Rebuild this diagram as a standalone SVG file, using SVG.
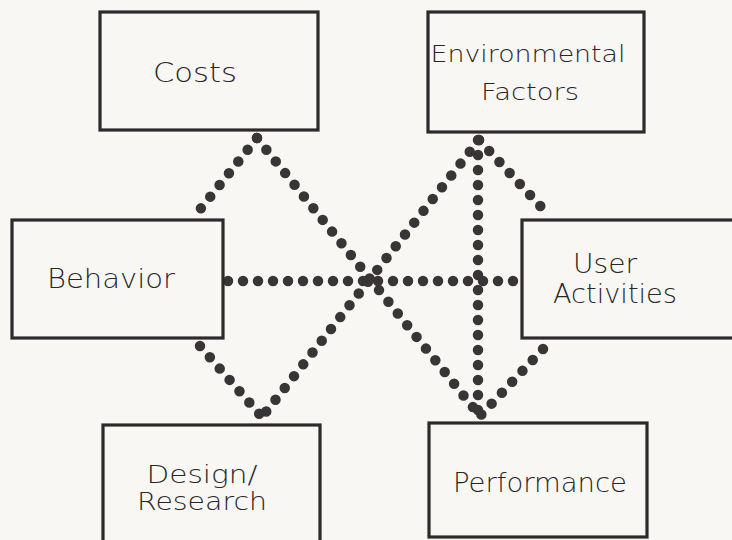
<svg xmlns="http://www.w3.org/2000/svg" width="732" height="540" viewBox="0 0 732 540">
<style>
.box{fill:#f8f7f3;stroke:#2e292a;stroke-width:3.2}
.lbl{font-family:"DejaVu Sans","Liberation Sans",sans-serif;font-weight:200;fill:#2a2526;text-anchor:middle}
.dot{fill:none;stroke:#393435;stroke-width:10.5;stroke-linecap:round;stroke-dasharray:0 15}
</style>
<rect width="732" height="540" fill="#f8f7f3"/>
<g id="connectors">
<path class="dot" d="M257,138 L198,212"/>
<path class="dot" d="M257,138 L480,416"/>
<path class="dot" d="M479,140 L262,417"/>
<path class="dot" d="M479,140 L545,211"/>
<path class="dot" d="M478,140 L478,416"/>
<path class="dot" d="M228,281 L521,281"/>
<path class="dot" d="M200,346 L262,417"/>
<path class="dot" d="M543,349 L480,416"/>
</g>
<g id="costs">
<rect class="box" x="100" y="12" width="218" height="118"/>
<text class="lbl" x="195" y="82" font-size="27" textLength="84" lengthAdjust="spacingAndGlyphs">Costs</text>
</g>
<g id="environmental-factors">
<rect class="box" x="428" y="12" width="216" height="120"/>
<text class="lbl" x="528" y="62" font-size="23" textLength="195" lengthAdjust="spacingAndGlyphs">Environmental</text>
<text class="lbl" x="530" y="100" font-size="23" textLength="98" lengthAdjust="spacingAndGlyphs">Factors</text>
</g>
<g id="behavior">
<rect class="box" x="12" y="220" width="211" height="118"/>
<text class="lbl" x="111" y="288" font-size="27" textLength="128" lengthAdjust="spacingAndGlyphs">Behavior</text>
</g>
<g id="user-activities">
<rect class="box" x="522" y="220" width="216" height="118"/>
<text class="lbl" x="605" y="273" font-size="26" textLength="64" lengthAdjust="spacingAndGlyphs">User</text>
<text class="lbl" x="615" y="303" font-size="26" textLength="124" lengthAdjust="spacingAndGlyphs">Activities</text>
</g>
<g id="design-research">
<rect class="box" x="103" y="425" width="217" height="120"/>
<text class="lbl" x="202" y="483" font-size="25" textLength="111" lengthAdjust="spacingAndGlyphs">Design/</text>
<text class="lbl" x="202" y="510" font-size="25" textLength="130" lengthAdjust="spacingAndGlyphs">Research</text>
</g>
<g id="performance">
<rect class="box" x="429" y="423" width="218" height="114"/>
<text class="lbl" x="540" y="492" font-size="26" textLength="174" lengthAdjust="spacingAndGlyphs">Performance</text>
</g>
</svg>
